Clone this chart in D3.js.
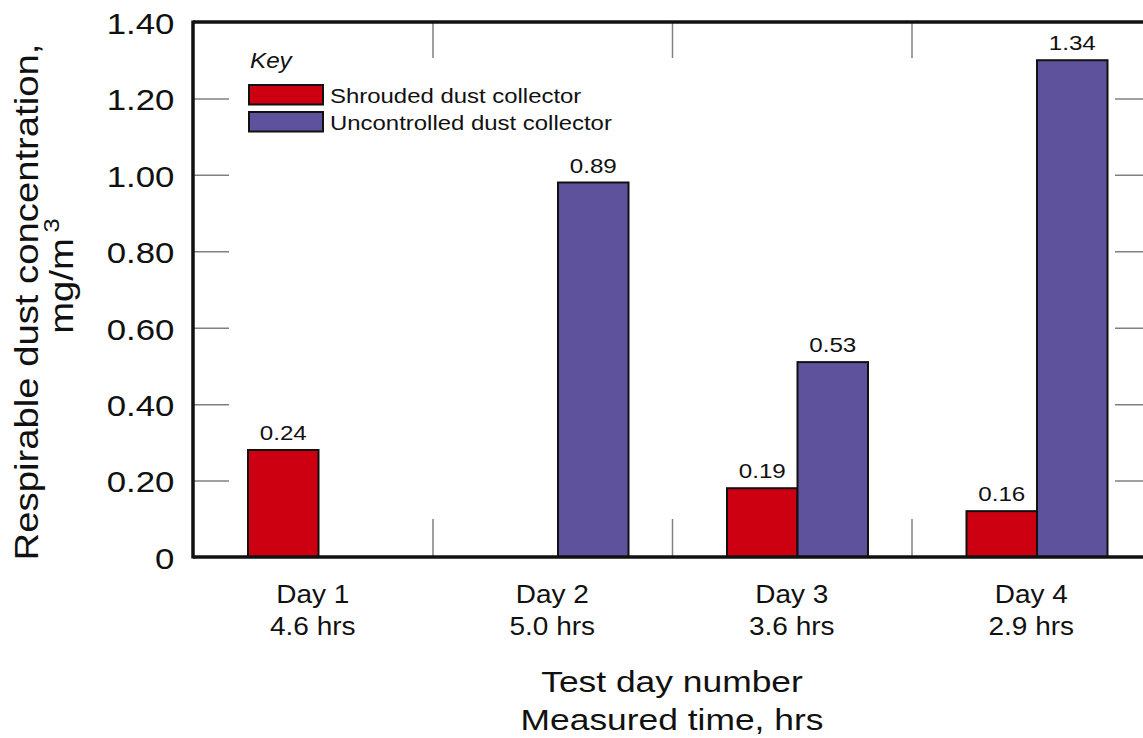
<!DOCTYPE html>
<html>
<head>
<meta charset="utf-8">
<script src="https://cdn.jsdelivr.net/npm/d3@7"></script>
<style>
  html, body { margin: 0; padding: 0; background: #fff; }
  svg { display: block; font-family: "Liberation Sans", Arial, sans-serif; }
</style>
</head>
<body>
<svg id="chart" width="1143" height="738"></svg>
<script>
// ---- data ----
const days = ["Day 1", "Day 2", "Day 3", "Day 4"];
const hours = ["4.6 hrs", "5.0 hrs", "3.6 hrs", "2.9 hrs"];
const seriesNames = ["Shrouded dust collector", "Uncontrolled dust collector"];
// bar heights as drawn in the picture
const shroudedBars = [0.28, null, 0.18, 0.12];
const uncontrolledBars = [null, 0.98, 0.51, 1.30];
// printed value labels
const shroudedLabels = ["0.24", null, "0.19", "0.16"];
const uncontrolledLabels = [null, "0.89", "0.53", "1.34"];
const yTicks = [0, 0.2, 0.4, 0.6, 0.8, 1.0, 1.2, 1.4];
const innerTicks = [0.2, 0.4, 0.6, 0.8, 1.0, 1.2];
const seriesColors = ["#CC0010", "#5D529B"];

// ---- layout ----
const svg = d3.select("#chart");
const L = 193, R = 1151, T = 22, B = 557;
const SX = 1.16; // horizontal text stretch of the original lettering

const y = d3.scaleLinear().domain([0, 1.4]).range([B, T]);
const x0 = d3.scaleBand().domain(days).range([L, R]).padding(0);
const x1 = d3.scaleBand().domain(seriesNames).range([55, 196]).padding(0);
const sep = d3.scaleLinear().domain([0, days.length]).range([L, R]);

function stext(parent, x, yy, str, size, anchor, opts = {}) {
  const g = parent.append("g").attr("transform", `translate(${x},${yy})${opts.rotate ? " rotate(" + opts.rotate + ")" : ""}`);
  const t = g.append("text")
    .attr("transform", `scale(${opts.sx || SX},1)`)
    .attr("text-anchor", anchor)
    .attr("font-size", size)
    .attr("fill", "#111")
    .text(str);
  if (opts.italic) t.attr("font-style", "italic");
  return t;
}

// ---- inner ticks (grey) ----
const tickColor = "#808080";
svg.append("g").attr("transform", `translate(${L},0)`)
  .call(d3.axisRight(y).tickValues(innerTicks).tickSize(36).tickFormat(""))
  .call(g => g.select(".domain").remove())
  .call(g => g.selectAll("line").attr("stroke", tickColor).attr("stroke-width", 1.5));
svg.append("g").attr("transform", `translate(${R},0)`)
  .call(d3.axisLeft(y).tickValues(innerTicks).tickSize(36).tickFormat(""))
  .call(g => g.select(".domain").remove())
  .call(g => g.selectAll("line").attr("stroke", tickColor).attr("stroke-width", 1.5));
svg.append("g").attr("transform", `translate(0,${T})`)
  .call(d3.axisBottom(sep).tickValues([1, 2, 3]).tickSize(36).tickFormat(""))
  .call(g => g.select(".domain").remove())
  .call(g => g.selectAll("line").attr("stroke", tickColor).attr("stroke-width", 1.5));
svg.append("g").attr("transform", `translate(0,${B})`)
  .call(d3.axisTop(sep).tickValues([1, 2, 3]).tickSize(38).tickFormat(""))
  .call(g => g.select(".domain").remove())
  .call(g => g.selectAll("line").attr("stroke", tickColor).attr("stroke-width", 1.5));

// ---- y tick labels ----
const yAxisG = svg.append("g").attr("transform", `translate(${L},0)`)
  .call(d3.axisLeft(y).tickValues(yTicks).tickSize(0).tickPadding(16)
    .tickFormat(d => d === 0 ? "0" : d.toFixed(2)))
  .call(g => g.select(".domain").remove());
yAxisG.selectAll("text")
  .attr("font-size", 30)
  .attr("font-family", "Liberation Sans, Arial, sans-serif")
  .attr("fill", "#111")
  .attr("dy", "0.38em")
  .attr("transform", `scale(${SX},1)`);

// ---- bars ----
const rows = days.map((d, i) => ({
  day: d,
  vals: [
    { s: seriesNames[0], v: shroudedBars[i], lab: shroudedLabels[i], c: seriesColors[0] },
    { s: seriesNames[1], v: uncontrolledBars[i], lab: uncontrolledLabels[i], c: seriesColors[1] }
  ]
}));

const groups = svg.append("g").selectAll("g").data(rows).join("g")
  .attr("transform", d => `translate(${x0(d.day)},0)`);

groups.selectAll("rect").data(d => d.vals.filter(v => v.v != null)).join("rect")
  .attr("x", d => x1(d.s))
  .attr("width", x1.bandwidth())
  .attr("y", d => y(d.v))
  .attr("height", d => y(0) - y(d.v))
  .attr("fill", d => d.c)
  .attr("stroke", "#111")
  .attr("stroke-width", 2);

groups.each(function(d) {
  const g = d3.select(this);
  d.vals.filter(v => v.v != null && v.lab).forEach(v => {
    stext(g, x1(v.s) + x1.bandwidth() / 2, y(v.v) - 10, v.lab, 20.5, "middle", { sx: 1.18 });
  });
});

// ---- frame ----
svg.append("line").attr("x1", L).attr("x2", R + 10).attr("y1", T).attr("y2", T)
  .attr("stroke", "#111").attr("stroke-width", 3.5);
svg.append("line").attr("x1", L).attr("x2", L).attr("y1", T - 1.5).attr("y2", B + 1.5)
  .attr("stroke", "#111").attr("stroke-width", 3.5);
svg.append("line").attr("x1", L).attr("x2", R + 10).attr("y1", B).attr("y2", B)
  .attr("stroke", "#111").attr("stroke-width", 3.5);

// ---- category labels ----
days.forEach((d, i) => {
  const cx = x0(d) + x0.bandwidth() / 2;
  stext(svg, cx, 603, d, 25, "middle", { sx: 1.12 });
  stext(svg, cx, 635, hours[i], 25, "middle", { sx: 1.12 });
});

// ---- axis titles ----
const midX = (L + R) / 2;
stext(svg, midX, 692, "Test day number", 30, "middle", { sx: 1.18 });
stext(svg, midX, 730, "Measured time, hrs", 30, "middle", { sx: 1.18 });

stext(svg, 38, 302, "Respirable dust concentration,", 33, "middle", { rotate: -90, sx: 1.16 });
const t2 = stext(svg, 73, 276, "mg/m", 33, "middle", { rotate: -90, sx: 1.16 });
t2.append("tspan").attr("dx", 5).attr("dy", -14).attr("font-size", 22).text("3");

// ---- legend ----
const lg = svg.append("g");
stext(lg, 250, 68, "Key", 22, "start", { italic: true, sx: 1.1 });
seriesNames.forEach((s, i) => {
  const yy = [85, 112][i];
  lg.append("rect").attr("x", 249).attr("y", yy).attr("width", 74).attr("height", 19.5)
    .attr("fill", seriesColors[i]).attr("stroke", "#111").attr("stroke-width", 2);
  stext(lg, 330, yy + 18, s, 21, "start", { sx: 1.14 });
});
</script>
</body>
</html>
